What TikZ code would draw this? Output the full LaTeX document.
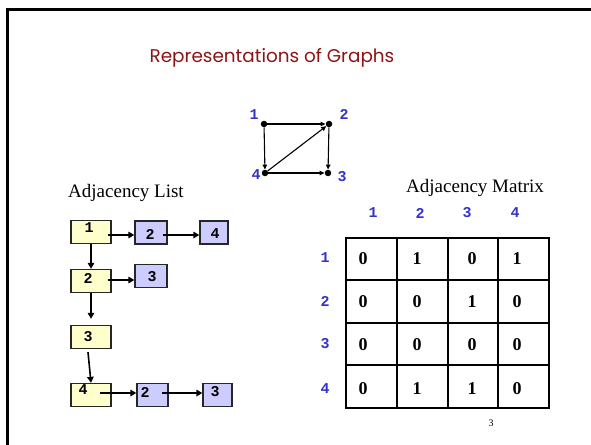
\documentclass[tikz,border=0pt]{standalone}
\usepackage{fontspec}
\setmainfont{Liberation Serif}
\newfontfamily\monofont{Liberation Mono}
\newfontfamily\titlefont{Poppins}
\usetikzlibrary{arrows.meta,calc}
\definecolor{titlered}{RGB}{140,20,20}
\definecolor{hdrblue}{RGB}{51,51,204}
\definecolor{boxyellow}{RGB}{255,255,204}
\definecolor{boxblue}{RGB}{204,204,255}
\begin{document}
\begin{tikzpicture}[x=1pt,y=-1pt,
  ybox/.style={draw=black!85,line width=1.3pt,fill=boxyellow,inner sep=0pt,minimum height=23pt,minimum width=40pt},
  bbox/.style={draw=black!85,line width=1.3pt,fill=boxblue,inner sep=0pt,minimum height=23pt},
  boxtxt/.style={inner sep=0pt,font=\monofont\bfseries\fontsize{15}{15}\selectfont},
  larrow/.style={line width=1.6pt,-{Triangle[length=6pt,width=6.5pt]}},
  garrow/.style={line width=1.1pt,-{Triangle[length=5pt,width=4.5pt]}},
  gdot/.style={circle,fill=black,inner sep=0pt,minimum size=6.5pt},
  glabel/.style={inner sep=0pt,text=hdrblue,font=\monofont\bfseries\fontsize{15}{15}\selectfont},
  hdr/.style={inner sep=0pt,text=hdrblue,font=\monofont\bfseries\fontsize{15}{15}\selectfont},
  cellv/.style={inner sep=0pt,font=\bfseries\fontsize{18}{18}\selectfont},
  caption/.style={inner sep=0pt,anchor=base west,font=\fontsize{19}{19}\selectfont},
  grid/.style={line width=1.5pt,black}]
\useasboundingbox (0,0) rectangle (591,444);
% frame
\draw[line width=3pt,black] (7,460) -- (7,10) -- (600,10);
% title
\node[inner sep=0pt,text=titlered,font=\titlefont\fontsize{18.4}{18.4}\selectfont] (title) at (272,58) {Representations of Graphs};
% graph
\node[gdot] (g1) at (264,124) {};
\node[gdot] (g2) at (329,124) {};
\node[gdot] (g3) at (328,173) {};
\node[gdot] (g4) at (265,173) {};
\node[glabel] (l1) at (254,115) {1};
\node[glabel] (l2) at (344,114) {2};
\node[glabel] (l3) at (342,177) {3};
\node[glabel] (l4) at (256,175) {4};
\draw[garrow] (g1) -- (g2);
\draw[garrow] (g1) -- (g4);
\draw[garrow] (g4) -- (g2);
\draw[garrow] (g2) -- (g3);
\draw[garrow] (g4) -- (g3);
% captions
\node[caption] (cl) at (68,197) {Adjacency List};
\node[caption] (cm) at (406,192) {Adjacency Matrix};
% adjacency list boxes
\node[ybox] (y1) at (91,232) {};
\node[ybox] (y2) at (91,281) {};
\node[ybox] (y3) at (91,337) {};
\node[ybox] (y4) at (91,395) {};
\node[bbox,minimum width=32pt] (b12) at (151,232.5) {};
\node[bbox,minimum width=28pt] (b14) at (214,232.5) {};
\node[bbox,minimum width=32pt] (b23) at (151,276) {};
\node[bbox,minimum width=31pt] (b42) at (152.5,395) {};
\node[bbox,minimum width=29pt] (b43) at (217.5,395) {};
\node[boxtxt] (t1) at (89,228) {1};
\node[boxtxt] (t12) at (150,234) {2};
\node[boxtxt] (t14) at (215,234) {4};
\node[boxtxt] (t2) at (88,278) {2};
\node[boxtxt] (t23) at (152,277) {3};
\node[boxtxt] (t3) at (88,337) {3};
\node[boxtxt] (t4) at (83,390) {4};
\node[boxtxt] (t42) at (145,392) {2};
\node[boxtxt] (t43) at (215,392) {3};
% list arrows
\draw[larrow] ([xshift=-4pt,yshift=-3pt]y1.east) coordinate (s1) -- (s1 -| b12.west);
\draw[larrow] ([xshift=-5pt,yshift=-2.5pt]b12.east) coordinate (s2) -- (s2 -| b14.west);
\draw[larrow] (y1.south) -- (y2.north);
\draw[larrow] ([xshift=-4pt,yshift=1pt]y2.east) coordinate (s3) -- (s3 -| b23.west);
\draw[larrow] (y2.south) -- ([yshift=6pt]y3.north);
\draw[larrow] ([xshift=-3pt,yshift=-3pt]y3.south) -- (y4.north);
\draw[larrow] ([xshift=9pt,yshift=2pt]y4.center) coordinate (s4) -- (s4 -| b42.west);
\draw[larrow] ([xshift=9.5pt,yshift=2pt]b42.center) coordinate (s5) -- (s5 -| b43.west);
% matrix grid
\draw[grid] (346,238) rectangle (549,408);
\foreach \xx in {397,448,498} \draw[grid] (\xx,238) -- (\xx,408);
\foreach \yy in {280,323,365} \draw[grid] (346,\yy) -- (549,\yy);
% headers
\node[hdr] (c1) at (373,213) {1};
\node[hdr] (c2) at (420,213) {2};
\node[hdr] (c3) at (467,213) {3};
\node[hdr] (c4) at (515,213) {4};
\node[hdr] (r1) at (325,258) {1};
\node[hdr] (r2) at (325,301) {2};
\node[hdr] (r3) at (325,344) {3};
\node[hdr] (r4) at (325,389) {4};
% values
\foreach \v [count=\i] in {0,1,0,1, 0,0,1,0, 0,0,0,0, 0,1,1,0} {
  \pgfmathtruncatemacro\row{int((\i-1)/4)}
  \pgfmathtruncatemacro\col{mod(\i-1,4)}
  \pgfmathsetmacro\cx{{363,417,472,517}[\col]}
  \pgfmathsetmacro\cy{{259,302,345,389}[\row]}
  \node[cellv] (v\row\col) at (\cx,\cy) {\v};
}
% page number
\node[inner sep=0pt,font=\fontsize{10}{10}\selectfont] (pg) at (491,423) {3};
\end{tikzpicture}
\end{document}
